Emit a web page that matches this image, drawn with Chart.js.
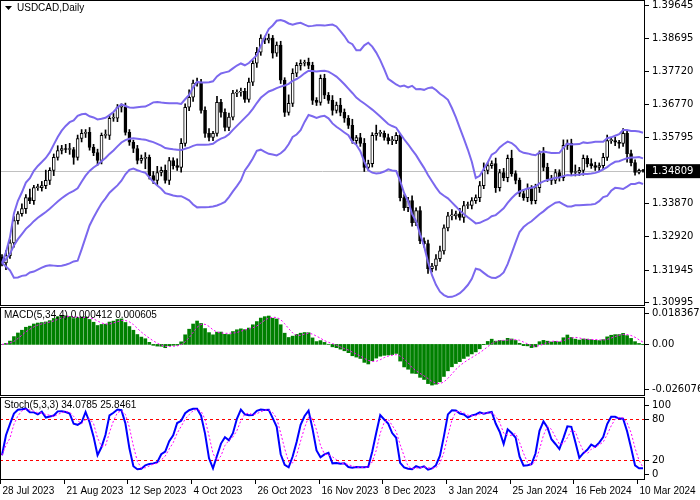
<!DOCTYPE html>
<html>
<head>
<meta charset="utf-8">
<script src="https://cdn.jsdelivr.net/npm/chart.js@4"></script>
<style>
  body { margin: 0; background: #fff; }
  .pane { position: absolute; left: 0; }
</style>
</head>
<body>
<div class="pane" style="top:0px"><canvas id="main" width="700" height="306"></canvas></div>
<div class="pane" style="top:306px"><canvas id="macd" width="700" height="90"></canvas></div>
<div class="pane" style="top:396px"><canvas id="stoch" width="700" height="104"></canvas></div>
<script>
// USDCAD daily closes (one per bar)
const closes = [
  1.3214,1.3235,1.3272,1.3337,1.3357,1.3372,1.3404,1.3395,1.3433,1.3433,
  1.3439,1.3454,1.3483,1.3521,1.3541,1.3547,1.3544,1.3544,1.3521,1.3576,
  1.3591,1.3594,1.3550,1.3535,1.3512,1.3585,1.3585,1.3635,1.3635,1.3667,
  1.3667,1.3594,1.3565,1.3547,1.3512,1.3518,1.3521,1.3468,1.3454,1.3477,
  1.3483,1.3454,1.3512,1.3497,1.3492,1.3562,1.3667,1.3696,1.3737,1.3740,
  1.3658,1.3591,1.3579,1.3591,1.3681,1.3652,1.3608,1.3638,1.3708,1.3711,
  1.3713,1.3690,1.3740,1.3795,1.3827,1.3868,1.3862,1.3868,1.3824,1.3848,
  1.3746,1.3652,1.3678,1.3766,1.3789,1.3795,1.3798,1.3789,1.3687,1.3681,
  1.3751,1.3702,1.3687,1.3658,1.3673,1.3652,1.3635,1.3614,1.3570,1.3579,
  1.3562,1.3492,1.3503,1.3585,1.3591,1.3591,1.3579,1.3570,1.3570,1.3585,
  1.3404,1.3375,1.3395,1.3331,1.3366,1.3278,1.3270,1.3197,1.3205,1.3226,
  1.3249,1.3316,1.3351,1.3351,1.3357,1.3346,1.3381,1.3381,1.3395,1.3404,
  1.3439,1.3483,1.3497,1.3503,1.3433,1.3477,1.3462,1.3518,1.3474,1.3454,
  1.3416,1.3404,1.3430,1.3395,1.3433,1.3532,1.3492,1.3459,1.3454,1.3477,
  1.3462,1.3556,1.3562,1.3477,1.3477,1.3483,1.3518,1.3503,1.3497,1.3492,
  1.3497,1.3521,1.3570,1.3570,1.3565,1.3562,1.3591,1.3532,1.3506,1.3477,
  1.3483,1.34809
];
const firstOpen = 1.3230;
// wick lengths beyond the body, in pips
const wickUp = [
  8,15,10,12,6,14,9,25,7,10, 12,30,8,10,14,9,12,18,6,10, 11,8,14,9,10,7,16,9,14,8,
  10,12,8,6,9,10,14,7,12,18, 10,16,9,8,20,14,10,22,9,12, 8,10,14,6,18,9,10,12,8,7,
  10,9,12,8,14,10,6,12,8,9, 11,7,25,13,8,10,6,12,9,8, 10,12,8,14,9,20,10,8,18,6,
  12,14,10,8,24,9,7,10,12,8, 6,9,10,14,8,12,9,10,8,12, 14,9,10,18,8,16,12,10,9,8,
  12,22,10,8,16,9,12,10,24,8, 7,12,14,9,10,8,18,12,10,9, 8,16,10,12,22,9,10,8,14,10,
  8,12,16,9,10,6,14,8,10,8, 4,3
];
const wickDn = [
  9,20,8,12,10,7,14,9,11,8, 10,9,12,15,8,10,9,14,20,8, 10,12,8,9,14,10,8,12,9,10,
  14,8,9,12,10,8,30,10,9,12, 10,8,12,10,9,14,8,10,12,9, 8,12,10,9,8,14,10,9,8,10,
  12,9,8,10,12,9,10,8,14,9, 10,12,8,9,10,14,8,10,12,9, 8,10,9,14,8,10,12,9,8,10,
  9,12,8,10,14,9,8,10,12,9, 10,8,12,10,9,8,10,14,9,12, 8,10,9,12,10,8,14,9,10,8,
  12,9,10,8,14,10,9,12,8,10, 9,8,12,10,9,14,10,8,12,9, 10,9,12,8,10,9,14,10,8,9,
  10,12,9,8,10,14,9,25,10,8, 4,3
];
const dateTicks = [
  [0,'28 Jul 2023'],[16,'21 Aug 2023'],[32,'12 Sep 2023'],[48,'4 Oct 2023'],
  [64,'26 Oct 2023'],[80,'16 Nov 2023'],[96,'8 Dec 2023'],[112,'3 Jan 2024'],
  [128,'25 Jan 2024'],[144,'16 Feb 2024'],[160,'10 Mar 2024']
];
const priceTicks = [1.39645,1.38695,1.37720,1.36770,1.35795,1.33870,1.32920,1.31945,1.30995];
const macdTicks = [0.018367, 0, -0.026076];
const stochTicks = [100, 80, 20, 0];
const lastPrice = 1.34809;

const NUM = '10px "DejaVu Sans"';
const TXT = '10px "Liberation Sans"';
const labels = closes.map((c, i) => i);

// build OHLC
const opens = closes.map((c, i) => i === 0 ? firstOpen : closes[i - 1]);
const highs = closes.map((c, i) => Math.max(c, opens[i]) + wickUp[i] * 0.0001);
const lows = closes.map((c, i) => Math.min(c, opens[i]) - wickDn[i] * 0.0001);

// indicators
function sma(arr, n) {
  return arr.map((v, i) => {
    const s = arr.slice(Math.max(0, i - n + 1), i + 1);
    return s.reduce((a, b) => a + b, 0) / s.length;
  });
}
function ema(arr, n) {
  const k = 2 / (n + 1);
  let prev = arr[0];
  return arr.map(v => (prev = prev + k * (v - prev)));
}
const mid = sma(closes, 20);
const sd = closes.map((v, i) => {
  const s = closes.slice(Math.max(0, i - 19), i + 1);
  const m = mid[i];
  return Math.sqrt(s.reduce((a, b) => a + (b - m) * (b - m), 0) / s.length);
});
const upper = mid.map((m, i) => m + 2 * sd[i]);
const lower = mid.map((m, i) => m - 2 * sd[i]);

const e5 = ema(closes, 5), e34 = ema(closes, 34);
const macd = closes.map((c, i) => e5[i] - e34[i]);
const macdSig = sma(macd, 4);

const rawNum = closes.map((c, i) => {
  const lo = Math.min(...lows.slice(Math.max(0, i - 4), i + 1));
  return c - lo;
});
const rawDen = closes.map((c, i) => {
  const lo = Math.min(...lows.slice(Math.max(0, i - 4), i + 1));
  const hi = Math.max(...highs.slice(Math.max(0, i - 4), i + 1));
  return hi - lo;
});
const stochK = closes.map((c, i) => {
  let n = 0, d = 0;
  for (let j = Math.max(0, i - 2); j <= i; j++) { n += rawNum[j]; d += rawDen[j]; }
  return d ? n / d * 100 : 50;
});
const stochD = sma(stochK, 3);

// pane titles and axis labels, painted by the frame plugin so the plot fills the pane
const paneInfo = {
  main: { title: 'USDCAD,Daily', arrow: true, ticks: priceTicks, fmt: v => v.toFixed(5) },
  macd: { title: 'MACD(5,34,4) 0.000412 0.000605', ticks: macdTicks, fmt: v => v === 0 ? '0.00' : v.toFixed(6) },
  stoch: { title: 'Stoch(5,3,3) 34.0785 25.8461', ticks: stochTicks, fmt: v => String(v) }
};

function rightAxis(min, max) {
  return {
    position: 'right', min: min, max: max,
    grid: { display: false },
    border: { display: false },
    afterFit: s => { s.width = 55; },
    ticks: { display: false }
  };
}
const xAxis = { type: 'category', display: false, offset: true };

const frame = {
  id: 'frame',
  afterDraw(chart) {
    const { ctx, chartArea: a, scales } = chart;
    const o = paneInfo[chart.canvas.id];
    ctx.save();
    ctx.strokeStyle = '#000';
    ctx.lineWidth = 1;
    ctx.strokeRect(a.left + 0.5, a.top + 0.5, a.right - a.left - 1, a.bottom - a.top - 1);
    ctx.fillStyle = '#000';
    ctx.textBaseline = 'middle';
    ctx.font = NUM;
    o.ticks.forEach(v => {
      const y = Math.round(scales.y.getPixelForValue(v)) + 0.5;
      ctx.beginPath(); ctx.moveTo(a.right, y); ctx.lineTo(a.right + 4, y); ctx.stroke();
      ctx.fillText(o.fmt(v), a.right + 7, y);
    });
    ctx.font = TXT;
    ctx.textBaseline = 'top';
    ctx.fillText(o.title, a.left + (o.arrow ? 17 : 4), a.top + 3);
    if (o.arrow) {
      ctx.beginPath();
      ctx.moveTo(a.left + 5, a.top + 6); ctx.lineTo(a.left + 12, a.top + 6); ctx.lineTo(a.left + 8.5, a.top + 10);
      ctx.fill();
    }
    ctx.restore();
  }
};

const base = (extra) => Object.assign({
  responsive: false, animation: false,
  layout: { padding: 0 },
  plugins: { legend: { display: false }, tooltip: { enabled: false } },
  datasets: { bar: { grouped: false } }
}, extra);

// main price pane
const priceLine = {
  id: 'priceLine',
  beforeDatasetsDraw(chart) {
    const y = Math.round(chart.scales.y.getPixelForValue(lastPrice)) + 0.5;
    const { ctx, chartArea: a } = chart;
    ctx.save();
    ctx.strokeStyle = '#c0c0c0';
    ctx.beginPath(); ctx.moveTo(a.left, y); ctx.lineTo(a.right, y); ctx.stroke();
    ctx.restore();
  },
  afterDraw(chart) {
    const y = chart.scales.y.getPixelForValue(lastPrice);
    const { ctx, chartArea: a } = chart;
    ctx.save();
    ctx.fillStyle = '#000';
    ctx.fillRect(a.right + 1, y - 7, 54, 14);
    ctx.fillStyle = '#fff';
    ctx.font = NUM;
    ctx.textBaseline = 'middle';
    ctx.fillText(lastPrice.toFixed(5), a.right + 7, y);
    ctx.restore();
  }
};

const bandStyle = { type: 'line', borderColor: '#7B68EE', borderWidth: 2, pointRadius: 0, tension: 0, order: 1 };
new Chart(document.getElementById('main'), {
  type: 'bar',
  data: {
    labels: labels,
    datasets: [
      Object.assign({ data: upper }, bandStyle),
      Object.assign({ data: mid }, bandStyle),
      Object.assign({ data: lower }, bandStyle),
      { data: closes.map((c, i) => [opens[i], c]), order: 2, barThickness: 3, minBarLength: 1,
        backgroundColor: closes.map((c, i) => c >= opens[i] ? '#fff' : '#000'),
        borderColor: '#000', borderWidth: 1, borderSkipped: false },
      { data: closes.map((c, i) => [lows[i], highs[i]]), order: 3, barThickness: 1, backgroundColor: '#000' }
    ]
  },
  options: base({ scales: { x: xAxis, y: rightAxis(1.30885, 1.39791) } }),
  plugins: [frame, priceLine]
});

// MACD pane
new Chart(document.getElementById('macd'), {
  type: 'bar',
  data: {
    labels: labels,
    datasets: [
      { type: 'line', data: macdSig, borderColor: '#ff00ff', borderWidth: 1, borderDash: [2, 2], pointRadius: 0, order: 1 },
      { data: macd, backgroundColor: '#008000', barThickness: 3, order: 2 }
    ]
  },
  options: base({
    layout: { padding: { top: 1 } },
    scales: { x: xAxis, y: rightAxis(-0.0302, 0.0219) }
  }),
  plugins: [frame]
});

// Stochastic pane
const stochExtras = {
  id: 'stochExtras',
  beforeDatasetsDraw(chart) {
    const { ctx, chartArea: a, scales } = chart;
    ctx.save();
    ctx.strokeStyle = '#ff0000';
    ctx.setLineDash([3, 3]);
    [80, 20].forEach(v => {
      const y = Math.round(scales.y.getPixelForValue(v)) + 0.5;
      ctx.beginPath(); ctx.moveTo(a.left, y); ctx.lineTo(a.right, y); ctx.stroke();
    });
    ctx.restore();
  },
  afterDraw(chart) {
    const { ctx, chartArea: a, scales } = chart;
    ctx.save();
    ctx.font = TXT;
    ctx.fillStyle = '#000';
    ctx.strokeStyle = '#000';
    ctx.textBaseline = 'top';
    dateTicks.forEach(([i, t]) => {
      const x = Math.round(scales.x.getPixelForValue(i)) - 1.5;
      ctx.beginPath(); ctx.moveTo(x, a.bottom); ctx.lineTo(x, a.bottom + 4); ctx.stroke();
      ctx.fillText(t, x + 2, a.bottom + 6);
    });
    ctx.restore();
  }
};
new Chart(document.getElementById('stoch'), {
  type: 'line',
  data: {
    labels: labels,
    datasets: [
      { data: stochD, borderColor: '#ff00ff', borderWidth: 1, borderDash: [2, 2], pointRadius: 0 },
      { data: stochK, borderColor: '#0000ff', borderWidth: 2, pointRadius: 0 }
    ]
  },
  options: base({
    layout: { padding: { top: 1, bottom: 20 } },
    scales: { x: xAxis, y: rightAxis(-8.7, 111.6) }
  }),
  plugins: [frame, stochExtras]
});
</script>
</body>
</html>
